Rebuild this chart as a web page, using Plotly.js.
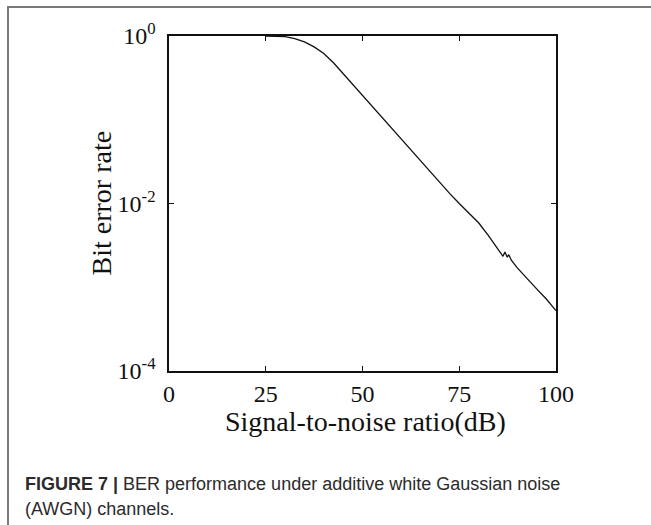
<!DOCTYPE html>
<html>
<head>
<meta charset="utf-8">
<script src="https://cdn.plot.ly/plotly-3.0.1.min.js"></script>
<style>
  html, body { margin: 0; padding: 0; background: #fff; }
  #wrap { position: relative; width: 651px; height: 525px; overflow: hidden; }
  #frame { position: absolute; left: 7px; top: 6px; width: 660px; height: 540px;
           border-top: 2px solid #7a7a7a; border-left: 2px solid #7a7a7a; box-sizing: border-box; }
  #chart { position: absolute; left: 0; top: 0; width: 651px; height: 525px; }
</style>
</head>
<body>
<div id="wrap">
  <div id="frame"></div>
  <div id="chart"></div>
</div>
<script>
// Signal-to-noise ratio (dB)
const snr = [25, 27.5, 30, 32.5, 35, 37.5, 40, 42.5, 45, 47.5, 50, 52.5, 55, 57.5, 60, 62.5, 65, 67.5, 70,
             72.5, 75, 77.5, 80, 82.5, 84, 85.5, 86.3, 86.8, 87.4, 87.8, 88.5, 90, 92.5, 95, 97.5, 100];
// Bit error rate
const ber = [1.0, 0.9954, 0.9817, 0.933, 0.851, 0.741, 0.617, 0.479, 0.355, 0.263, 0.195, 0.145, 0.107,
             0.0794, 0.0589, 0.0437, 0.0324, 0.0240, 0.0174, 0.0132, 0.0100, 0.00776, 0.00589, 0.00417,
             0.00331, 0.00257, 0.00234, 0.00263, 0.00229, 0.00245, 0.00209, 0.00170, 0.00126, 0.000955,
             0.000724, 0.000525];
const xTicks = [0, 25, 50, 75, 100];
const yTickVals = [1, 0.01, 0.0001];
const yTickText = ['10<sup>0</sup>', '10<sup>-2</sup>', '10<sup>-4</sup>'];
const xTitle = 'Signal-to-noise ratio(dB)';
const yTitle = 'Bit error rate';
const captionBold = 'FIGURE 7 |';
const captionLine1 = ' BER performance under additive white Gaussian noise';
const captionLine2 = '(AWGN) channels.';

const L = 169, R = 556, T = 36, B = 371;
const W = 651, H = 525;
const px = v => (v - L) / (R - L);
const py = v => (B - v) / (B - T);

const serif = 'Liberation Serif, Times New Roman, serif';
const sans = 'Liberation Sans, Arial, sans-serif';
const ink = '#111';
const trace = {
  x: snr, y: ber, type: 'scatter', mode: 'lines',
  line: { color: ink, width: 1.3 }, hoverinfo: 'skip'
};
const layout = {
  width: W, height: H,
  margin: { l: L, r: W - R, t: T, b: H - B },
  paper_bgcolor: 'rgba(0,0,0,0)', plot_bgcolor: 'rgba(0,0,0,0)',
  showlegend: false,
  font: { family: serif, color: ink },
  xaxis: {
    range: [0, 100], tickvals: xTicks, ticktext: xTicks.map(String),
    ticks: 'inside', ticklen: 5, tickwidth: 1, tickcolor: ink,
    showline: true, linecolor: ink, linewidth: 1.6, mirror: 'ticks',
    showgrid: false, zeroline: false, ticklabelstandoff: 1,
    tickfont: { family: serif, size: 24, color: ink }
  },
  yaxis: {
    type: 'log', range: [-4, 0], tickvals: yTickVals, ticktext: yTickText,
    ticks: 'inside', ticklen: 5, tickwidth: 1, tickcolor: ink,
    showline: true, linecolor: ink, linewidth: 1.6, mirror: 'ticks',
    showgrid: false, zeroline: false, ticklabelstandoff: 7,
    tickfont: { family: serif, size: 24, color: ink }
  },
  annotations: [
    { xref: 'paper', yref: 'paper', x: px(365), y: py(421), xanchor: 'center', yanchor: 'middle',
      showarrow: false, text: xTitle, font: { family: serif, size: 28, color: ink } },
    { xref: 'paper', yref: 'paper', x: px(101), y: 0.5, xanchor: 'center', yanchor: 'middle',
      showarrow: false, textangle: -90, text: yTitle, font: { family: serif, size: 28, color: ink } },
    { xref: 'paper', yref: 'paper', x: px(23), y: py(484), xanchor: 'left', yanchor: 'middle',
      showarrow: false, align: 'left',
      text: '<b>' + captionBold + '</b>' + captionLine1,
      font: { family: sans, size: 18, color: '#2b2b2b' } },
    { xref: 'paper', yref: 'paper', x: px(23), y: py(509), xanchor: 'left', yanchor: 'middle',
      showarrow: false, align: 'left',
      text: captionLine2,
      font: { family: sans, size: 18, color: '#2b2b2b' } }
  ]
};
Plotly.newPlot('chart', [trace], layout, { displayModeBar: false, staticPlot: true });
</script>
</body>
</html>
